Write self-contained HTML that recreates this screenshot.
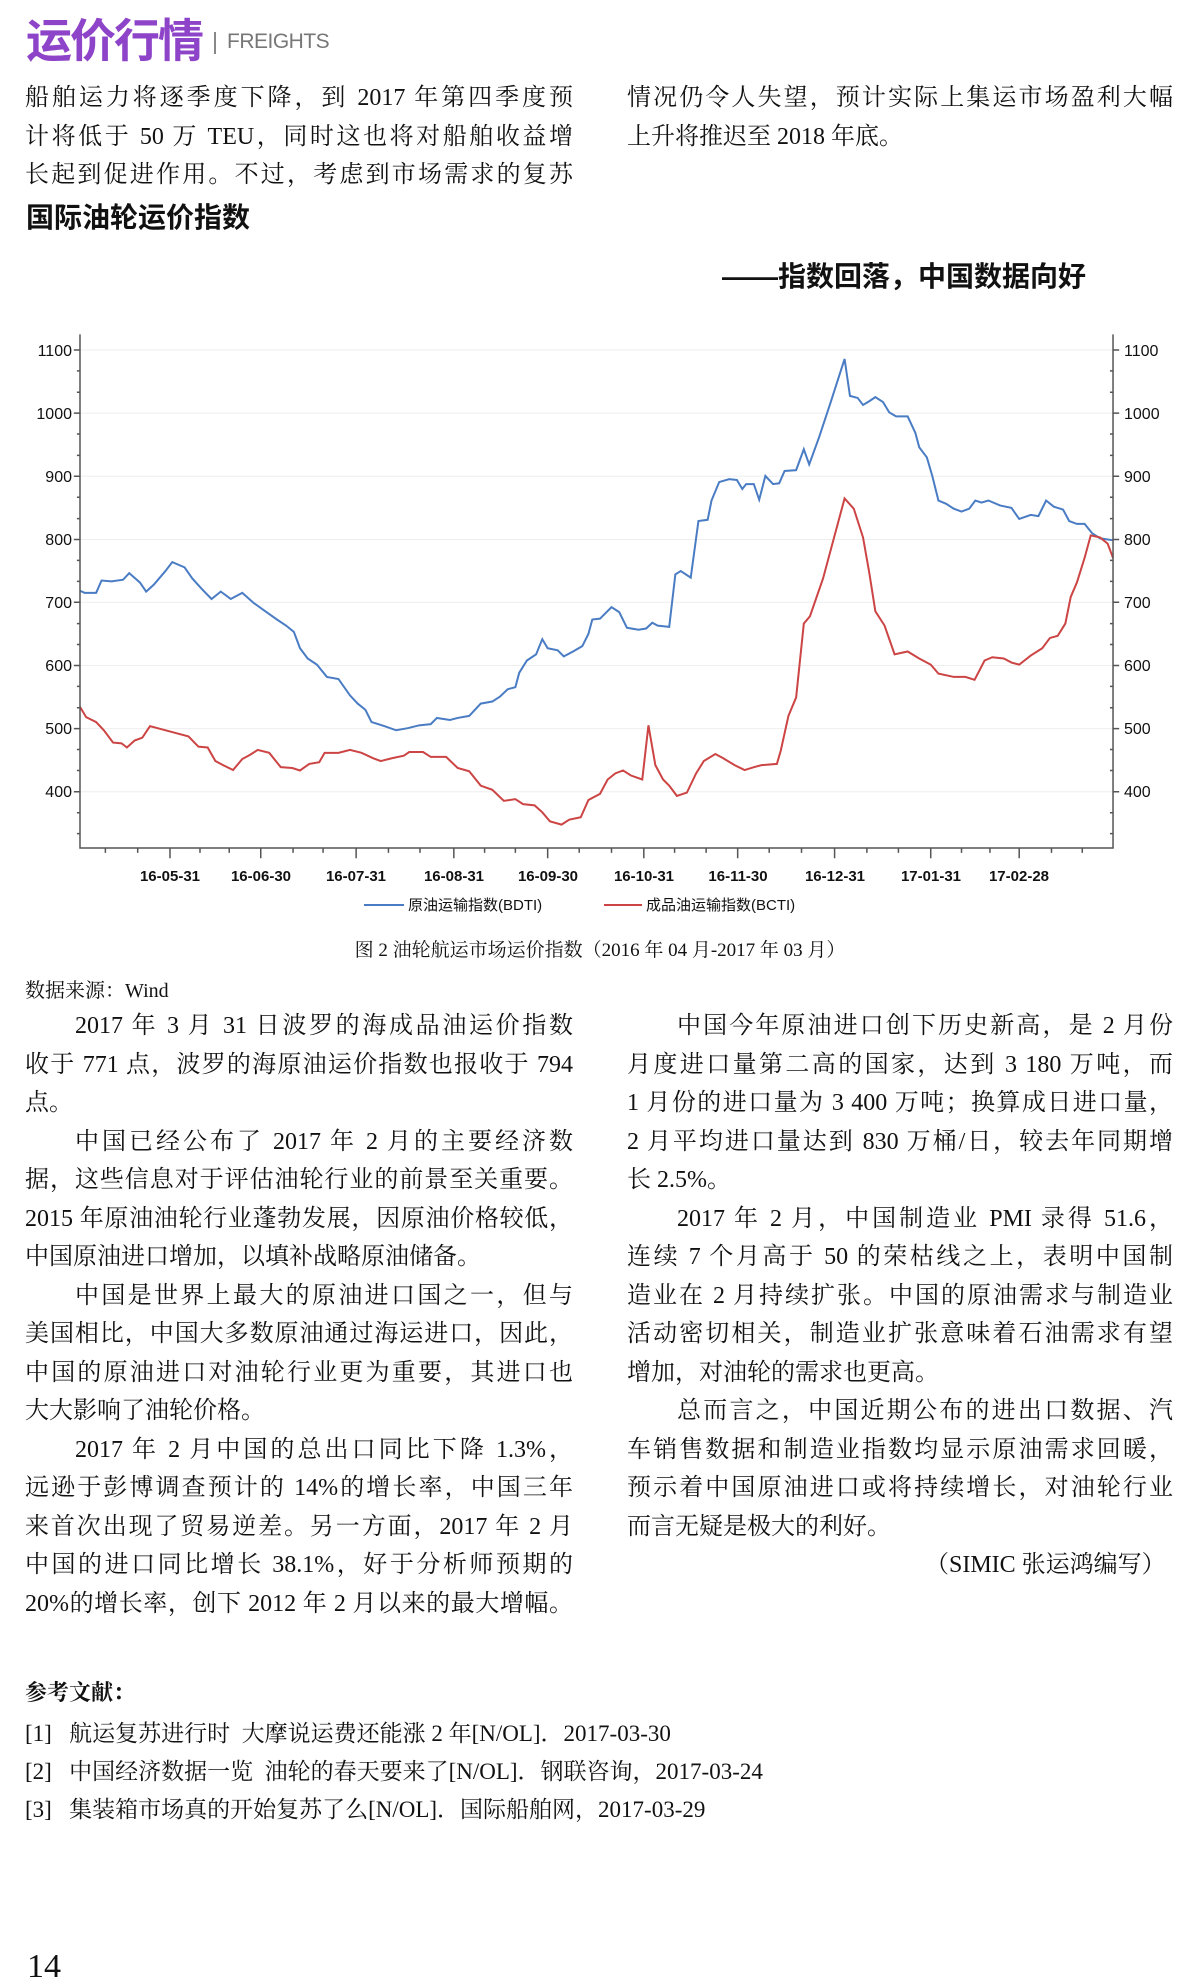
<!DOCTYPE html>
<html><head><meta charset="utf-8"><style>
body{margin:0;width:1200px;height:1978px;background:#fff;position:relative;overflow:hidden;font-family:"Liberation Serif","Noto Serif CJK SC",serif;color:#111}
.l{position:absolute;font-size:24px;line-height:30px;height:30px;white-space:nowrap;text-align:justify;text-align-last:justify}
.n{text-align-last:left}
.L{left:25px;width:548px}
.R{left:627px;width:546px}
.i{padding-left:50px;box-sizing:border-box}
.ab{position:absolute;white-space:nowrap}
</style></head><body>
<div class="ab" style="left:26px;top:5px;font-size:46px;font-weight:bold;color:#8e44c8;font-family:'Liberation Sans','Noto Sans CJK SC',sans-serif;letter-spacing:-2px">运价行情</div>
<div class="ab" style="left:214px;top:32px;width:2px;height:22px;background:#888"></div>
<div class="ab" style="left:227px;top:30px;font-size:21px;color:#777;font-family:'Liberation Sans',sans-serif;letter-spacing:-0.5px">FREIGHTS</div>

<div class="l L" style="top:83px">船舶运力将逐季度下降，到 2017 年第四季度预</div>
<div class="l L" style="top:122px">计将低于 50 万 TEU，同时这也将对船舶收益增</div>
<div class="l L" style="top:160px">长起到促进作用。不过，考虑到市场需求的复苏</div>
<div class="l R" style="top:83px">情况仍令人失望，预计实际上集运市场盈利大幅</div>
<div class="l R n" style="top:122px">上升将推迟至 2018 年底。</div>
<div class="ab" style="left:26px;top:196px;font-size:28px;font-weight:bold;font-family:'Liberation Sans','Noto Sans CJK SC',sans-serif">国际油轮运价指数</div>
<div class="ab" style="left:722px;top:255px;font-size:28px;font-weight:bold;font-family:'Liberation Sans','Noto Sans CJK SC',sans-serif">——指数回落，中国数据向好</div>

<svg class="ab" style="left:0;top:320px" width="1200" height="640">
<g transform="scale(0.7692,0.41026)" fill="none">
<g stroke="#eee" stroke-width="1">
<line x1="104" x2="1447" y1="73" y2="73" vector-effect="non-scaling-stroke"/><line x1="104" x2="1447" y1="227" y2="227" vector-effect="non-scaling-stroke"/><line x1="104" x2="1447" y1="381" y2="381" vector-effect="non-scaling-stroke"/><line x1="104" x2="1447" y1="535" y2="535" vector-effect="non-scaling-stroke"/><line x1="104" x2="1447" y1="688" y2="688" vector-effect="non-scaling-stroke"/><line x1="104" x2="1447" y1="842" y2="842" vector-effect="non-scaling-stroke"/><line x1="104" x2="1447" y1="996" y2="996" vector-effect="non-scaling-stroke"/><line x1="104" x2="1447" y1="1150" y2="1150" vector-effect="non-scaling-stroke"/>
</g>
<polyline stroke="#4a7cc4" stroke-width="2" vector-effect="non-scaling-stroke" points="104,660 110,665 125,665 132,635 145,637 160,633 168,617 182,640 190,662 200,645 215,612 224,590 240,603 250,630 262,655 275,680 287,662 300,680 315,665 330,690 345,710 360,730 372,745 382,760 390,800 400,825 412,840 425,870 440,875 455,915 465,935 475,950 483,980 500,990 515,1000 530,995 545,988 560,985 568,970 585,975 595,970 610,965 625,935 640,930 650,918 660,900 670,895 675,860 685,830 697,815 705,778 712,800 725,805 733,820 745,808 757,795 765,765 770,730 780,728 795,700 805,712 815,750 830,755 840,752 848,738 855,745 870,748 878,620 885,612 898,628 908,490 920,487 925,440 935,395 948,388 958,390 965,412 970,400 980,400 987,438 995,380 1005,400 1013,398 1020,368 1035,366 1045,315 1052,352 1065,285 1080,200 1098,95 1105,185 1115,190 1122,207 1130,198 1138,188 1148,200 1156,225 1165,235 1180,235 1190,275 1195,310 1205,335 1212,380 1220,440 1230,448 1240,460 1250,467 1260,460 1268,440 1276,445 1285,440 1300,452 1315,458 1325,485 1340,475 1350,478 1360,440 1370,455 1382,462 1390,490 1400,497 1410,497 1420,520 1430,532 1447,537"/>
<polyline stroke="#cc4444" stroke-width="2" vector-effect="non-scaling-stroke" points="104,943 112,968 125,980 135,1000 147,1030 158,1032 165,1042 175,1025 185,1018 195,990 205,995 225,1005 245,1015 258,1040 270,1042 280,1075 290,1085 303,1097 315,1070 325,1060 335,1048 350,1055 365,1090 380,1092 390,1098 402,1082 415,1078 422,1055 440,1055 455,1048 470,1055 485,1068 495,1075 510,1068 525,1062 532,1053 550,1053 560,1065 580,1065 595,1092 610,1100 625,1135 640,1145 655,1172 670,1168 680,1180 695,1183 705,1200 715,1222 730,1230 740,1218 755,1212 765,1170 780,1155 790,1120 800,1105 810,1098 820,1110 835,1120 843,988 852,1085 862,1120 870,1135 880,1160 893,1152 905,1105 915,1075 930,1058 940,1068 955,1085 968,1097 980,1090 990,1085 1010,1082 1015,1050 1025,965 1035,920 1045,740 1053,722 1070,630 1098,435 1110,460 1122,530 1130,615 1138,710 1150,745 1163,815 1180,808 1195,825 1210,840 1220,862 1240,870 1255,870 1267,877 1280,830 1290,822 1305,825 1315,835 1325,840 1340,818 1355,800 1365,775 1375,770 1385,740 1392,675 1400,640 1410,580 1418,525 1430,530 1440,545 1447,580"/>
<path stroke="#555" stroke-width="1.5" vector-effect="non-scaling-stroke" d="M104,35V1287H1447V35"/>
<path stroke="#555" stroke-width="1.5" vector-effect="non-scaling-stroke" d="M104,73h-8M104,227h-8M104,381h-8M104,535h-8M104,688h-8M104,842h-8M104,996h-8M104,1150h-8M1447,73h8M1447,227h8M1447,381h8M1447,535h8M1447,688h8M1447,842h8M1447,996h8M1447,1150h8
M104,124h-4M104,176h-4M104,278h-4M104,330h-4M104,432h-4M104,484h-4M104,586h-4M104,637h-4M104,740h-4M104,791h-4M104,893h-4M104,945h-4M104,1047h-4M104,1098h-4M104,1201h-4M104,1252h-4
M1447,124h-4M1447,176h-4M1447,278h-4M1447,330h-4M1447,432h-4M1447,484h-4M1447,586h-4M1447,637h-4M1447,740h-4M1447,791h-4M1447,893h-4M1447,945h-4M1447,1047h-4M1447,1098h-4M1447,1201h-4M1447,1252h-4
M137,1287v12M179,1287v12M221,1287v25M260,1287v12M298,1287v12M339,1287v25M381,1287v12M420,1287v12M463,1287v25M505,1287v12M546,1287v12M590,1287v25M630,1287v12M670,1287v12M712,1287v25M753,1287v12M795,1287v12M837,1287v25M877,1287v12M918,1287v12M959,1287v25M1000,1287v12M1042,1287v12M1085,1287v25M1127,1287v12M1168,1287v12M1210,1287v25M1250,1287v12M1287,1287v12M1325,1287v25M1367,1287v12M1407,1287v12"/>
</g>
<g font-family="Liberation Sans,sans-serif" font-size="16" fill="#111">
<g text-anchor="end"><text x="72" y="36">1100</text><text x="72" y="99">1000</text><text x="72" y="162">900</text><text x="72" y="225">800</text><text x="72" y="288">700</text><text x="72" y="351">600</text><text x="72" y="414">500</text><text x="72" y="477">400</text></g>
<g><text x="1124" y="36">1100</text><text x="1124" y="99">1000</text><text x="1124" y="162">900</text><text x="1124" y="225">800</text><text x="1124" y="288">700</text><text x="1124" y="351">600</text><text x="1124" y="414">500</text><text x="1124" y="477">400</text></g>
<g text-anchor="middle" font-weight="bold" font-size="15"><text x="170" y="561">16-05-31</text><text x="261" y="561">16-06-30</text><text x="356" y="561">16-07-31</text><text x="454" y="561">16-08-31</text><text x="548" y="561">16-09-30</text><text x="644" y="561">16-10-31</text><text x="738" y="561">16-11-30</text><text x="835" y="561">16-12-31</text><text x="931" y="561">17-01-31</text><text x="1019" y="561">17-02-28</text></g>
<line x1="364" x2="404" y1="585" y2="585" stroke="#4a7cc4" stroke-width="2"/><text x="408" y="590" font-size="15" font-family="Liberation Sans,Noto Sans CJK SC,sans-serif">原油运输指数(BDTI)</text>
<line x1="604" x2="642" y1="585" y2="585" stroke="#cc4444" stroke-width="2"/><text x="646" y="590" font-size="15" font-family="Liberation Sans,Noto Sans CJK SC,sans-serif">成品油运输指数(BCTI)</text>
<text x="600" y="636" text-anchor="middle" font-size="19" font-family="Liberation Serif,Noto Serif CJK SC,serif">图 2 油轮航运市场运价指数（2016 年 04 月-2017 年 03 月）</text>
</g>
</svg>

<div class="ab" style="left:25px;top:974px;font-size:20px">数据来源：Wind</div>

<div class="l L i" style="top:1011px">2017 年 3 月 31 日波罗的海成品油运价指数</div>
<div class="l L" style="top:1050px">收于 771 点，波罗的海原油运价指数也报收于 794</div>
<div class="l L n" style="top:1088px">点。</div>
<div class="l L i" style="top:1127px">中国已经公布了 2017 年 2 月的主要经济数</div>
<div class="l L" style="top:1165px">据，这些信息对于评估油轮行业的前景至关重要。</div>
<div class="l L" style="top:1204px">2015 年原油油轮行业蓬勃发展，因原油价格较低，</div>
<div class="l L n" style="top:1242px">中国原油进口增加，以填补战略原油储备。</div>
<div class="l L i" style="top:1281px">中国是世界上最大的原油进口国之一，但与</div>
<div class="l L" style="top:1319px">美国相比，中国大多数原油通过海运进口，因此，</div>
<div class="l L" style="top:1358px">中国的原油进口对油轮行业更为重要，其进口也</div>
<div class="l L n" style="top:1396px">大大影响了油轮价格。</div>
<div class="l L i" style="top:1435px">2017 年 2 月中国的总出口同比下降 1.3%，</div>
<div class="l L" style="top:1473px">远逊于彭博调查预计的 14%的增长率，中国三年</div>
<div class="l L" style="top:1512px">来首次出现了贸易逆差。另一方面，2017 年 2 月</div>
<div class="l L" style="top:1550px">中国的进口同比增长 38.1%，好于分析师预期的</div>
<div class="l L" style="top:1589px">20%的增长率，创下 2012 年 2 月以来的最大增幅。</div>

<div class="l R i" style="top:1011px">中国今年原油进口创下历史新高，是 2 月份</div>
<div class="l R" style="top:1050px">月度进口量第二高的国家，达到 3 180 万吨，而</div>
<div class="l R" style="top:1088px">1 月份的进口量为 3 400 万吨；换算成日进口量，</div>
<div class="l R" style="top:1127px">2 月平均进口量达到 830 万桶/日，较去年同期增</div>
<div class="l R n" style="top:1165px">长 2.5%。</div>
<div class="l R i" style="top:1204px">2017 年 2 月，中国制造业 PMI 录得 51.6，</div>
<div class="l R" style="top:1242px">连续 7 个月高于 50 的荣枯线之上，表明中国制</div>
<div class="l R" style="top:1281px">造业在 2 月持续扩张。中国的原油需求与制造业</div>
<div class="l R" style="top:1319px">活动密切相关，制造业扩张意味着石油需求有望</div>
<div class="l R n" style="top:1358px">增加，对油轮的需求也更高。</div>
<div class="l R i" style="top:1396px">总而言之，中国近期公布的进出口数据、汽</div>
<div class="l R" style="top:1435px">车销售数据和制造业指数均显示原油需求回暖，</div>
<div class="l R" style="top:1473px">预示着中国原油进口或将持续增长，对油轮行业</div>
<div class="l R n" style="top:1512px">而言无疑是极大的利好。</div>
<div class="ab" style="left:925px;top:1550px;font-size:24px;line-height:30px">（SIMIC 张运鸿编写）</div>

<div class="ab" style="left:25px;top:1676px;font-size:22px;font-weight:bold">参考文献：</div>
<div class="ab" style="left:25px;top:1715px;font-size:23px">[1]&nbsp;&nbsp;&nbsp;航运复苏进行时&nbsp;&nbsp;大摩说运费还能涨 2 年[N/OL]．2017-03-30</div>
<div class="ab" style="left:25px;top:1753px;font-size:23px">[2]&nbsp;&nbsp;&nbsp;中国经济数据一览&nbsp;&nbsp;油轮的春天要来了[N/OL]．钢联咨询，2017-03-24</div>
<div class="ab" style="left:25px;top:1791px;font-size:23px">[3]&nbsp;&nbsp;&nbsp;集装箱市场真的开始复苏了么[N/OL]．国际船舶网，2017-03-29</div>
<div class="ab" style="left:27px;top:1950px;font-size:34px;line-height:34px">14</div>
</body></html>
